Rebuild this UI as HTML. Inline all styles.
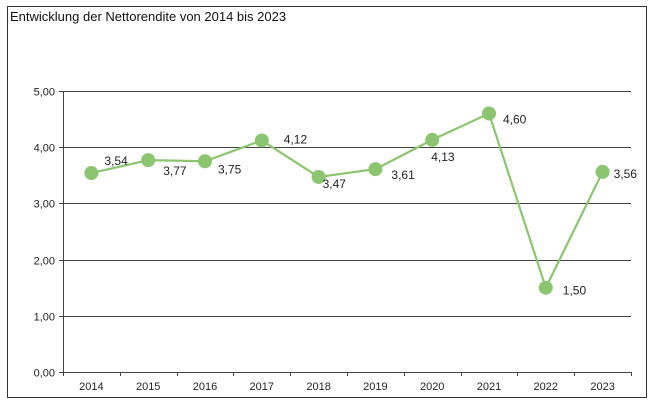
<!DOCTYPE html>
<html><head><meta charset="utf-8"><style>
html,body{margin:0;padding:0;background:#fff;}
svg{display:block;font-family:"Liberation Sans",sans-serif;}
</style></head><body>
<svg id="chart" width="661" height="411">
<rect x="7.5" y="6.5" width="639" height="391" fill="#fff" stroke="#333" stroke-width="1"/>
<text x="10" y="21" font-size="13" fill="#111">Entwicklung der Nettorendite von 2014 bis 2023</text>
<g id="grid"></g><g id="axes"></g><g id="series"></g>
</svg>
<script>
const categories=["2014","2015","2016","2017","2018","2019","2020","2021","2022","2023"];
const values=[3.54,3.77,3.75,4.12,3.47,3.61,4.13,4.60,1.50,3.56];
const valueLabels=["3,54","3,77","3,75","4,12","3,47","3,61","4,13","4,60","1,50","3,56"];
const yTicks=[0,1,2,3,4,5];
const yTickLabels=["0,00","1,00","2,00","3,00","4,00","5,00"];
const labelDx=[13,15,13,22,4,16,-1,14,17,11];
const labelDy=[-8,15,12,3,11,10,21,10,7,6];
const x0=63,x1=631,yTop=91,yBot=372,yMax=5;
const bw=(x1-x0)/categories.length;
const xS=i=>x0+bw*(i+0.5);
const yS=v=>yBot-(v/yMax)*(yBot-yTop);
const NS="http://www.w3.org/2000/svg";
function mk(t,a,p){const e=document.createElementNS(NS,t);for(const k in a)e.setAttribute(k,a[k]);p.appendChild(e);return e;}
const grid=document.getElementById('grid'),axes=document.getElementById('axes'),ser=document.getElementById('series');
yTicks.forEach((v,i)=>{
 const y=Math.round(yS(v))+0.5;
 if(v>0){const l=mk('line',{x1:x0,x2:x1,y1:y,y2:y,stroke:'#444','stroke-width':1},grid);
 
 }
 const tk=mk('line',{x1:x0-4,x2:x0,y1:y,y2:y,stroke:'#444'},axes);
 
 
 const t=mk('text',{x:x0-8,y:y+4,'text-anchor':'end','font-size':11,fill:'#222'},axes);
 t.textContent=yTickLabels[i];
 
 
});
const ya=mk('line',{x1:x0+0.5,x2:x0+0.5,y1:yTop,y2:yBot,stroke:'#444'},axes);


const xa=mk('line',{x1:x0,x2:x1,y1:yBot+0.5,y2:yBot+0.5,stroke:'#444'},axes);


for(let i=0;i<=categories.length;i++){
 const x=Math.round(x0+bw*i)+0.5;
 const tk=mk('line',{x1:x,x2:x,y1:yBot,y2:yBot+4,stroke:'#444'},axes);
 
 
}
categories.forEach((c,i)=>{
 const t=mk('text',{x:xS(i),y:yBot+18,'text-anchor':'middle','font-size':11,fill:'#222'},axes);
 t.textContent=c;
 
 
});
const pts=values.map((v,i)=>xS(i)+','+yS(v)).join(' ');
const pl=mk('polyline',{points:pts,fill:'none',stroke:'#8cc56f','stroke-width':2.2},ser);


values.forEach((v,i)=>{
 const c=mk('circle',{cx:xS(i),cy:yS(v),r:7,fill:'#8cc56f'},ser);
 
 
 const t=mk('text',{x:xS(i)+labelDx[i],y:yS(v)+labelDy[i],'font-size':12,fill:'#222'},ser);
 t.textContent=valueLabels[i];
 
 
});
</script>
</body></html>
